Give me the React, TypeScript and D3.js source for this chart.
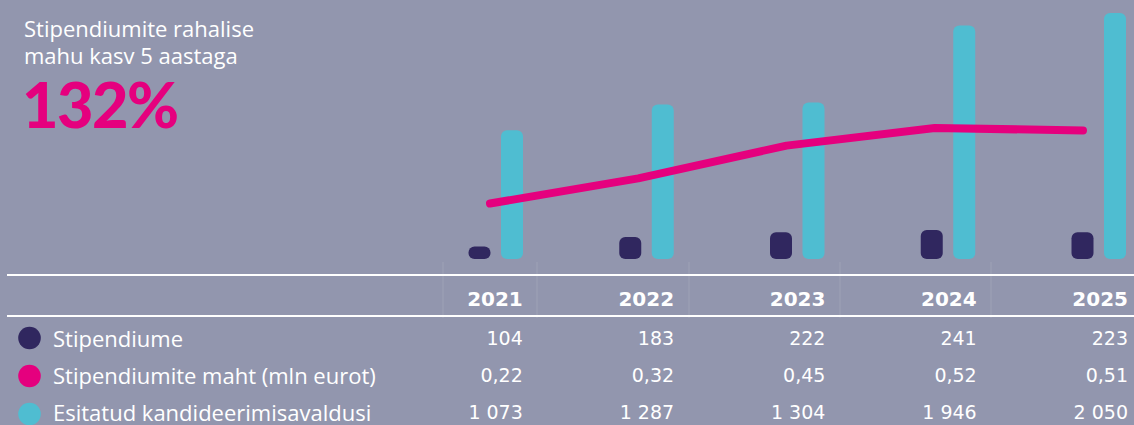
import React from "react";
import * as d3 from "d3";

const years = ["2021", "2022", "2023", "2024", "2025"];
const stipendiume = [104, 183, 222, 241, 223];
const maht = [0.22, 0.32, 0.45, 0.52, 0.51];
const avaldusi = [1073, 1287, 1304, 1946, 2050];
const stipLabels = ["104", "183", "222", "241", "223"];
const mahtLabels = ["0,22", "0,32", "0,45", "0,52", "0,51"];
const avalLabels = ["1 073", "1 287", "1 304", "1 946", "2 050"];
const seriesNames = ["Stipendiume", "Stipendiumite maht (mln eurot)", "Esitatud kandideerimisavaldusi"];
const titleLines = ["Stipendiumite rahalise", "mahu kasv 5 aastaga"];
const bigNumber = "132%";

const W = 1134;
const H = 425;
const BG = "#9296AE";
const NAVY = "#30275F";
const PINK = "#E5007E";
const CYAN = "#4FBDD1";
const FONT = "'Open Sans', 'Noto Sans', sans-serif";
const NUMFONT = "'DejaVu Sans', 'Open Sans', sans-serif";

export default function App() {
  const baseY = 259;
  const yBar = d3.scaleLinear().domain([0, 2050]).range([baseY, 13]);
  const yLine = d3.scaleLinear().domain([0, 1]).range([baseY, 7]);
  // chart columns (bar right edges)
  const xBar = d3.scaleBand().domain(years).range([372.25, 1126]).padding(0);
  // table columns (text right edges)
  const xTab = d3.scaleBand().domain(years).range([371.5, 1128]).padding(0);
  const xLine = d3.scalePoint().domain(years).range([490, 1083]);
  const bw = 22;
  const gap = 10.5;

  const line = d3
    .line<number>()
    .x((_, i) => xLine(years[i]) as number)
    .y((d) => yLine(d));

  const valY = [345, 381.7, 419];
  const labY = [346.5, 384.3, 421];
  const dotY = [338, 376, 414];
  const dotColors = [NAVY, PINK, CYAN];
  const rows = [stipLabels, mahtLabels, avalLabels];
  const colLines = [443, 537, 689, 840, 991];

  return (
    <svg
      width={W}
      height={H}
      style={{ position: "absolute", left: 0, top: 0, display: "block" }}
      fontFamily={FONT}
    >
      <rect x={0} y={0} width={W} height={H} fill={BG} />
      {/* title */}
      {titleLines.map((t, i) => (
        <text key={t} x={24} y={37 + i * 26.5} fill="#fff" fontSize={22}>
          {t}
        </text>
      ))}
      <text
        x={22}
        y={128}
        fill={PINK}
        fontSize={63}
        fontWeight={900}
        fontFamily="Lato, 'Open Sans', sans-serif"
        letterSpacing={-1.5}
      >
        {bigNumber}
      </text>

      {/* bars */}
      {years.map((yr, i) => {
        const right = (xBar(yr) as number) + xBar.bandwidth();
        const cx = right - bw;
        const dx = cx - gap - bw;
        const hC = baseY - yBar(avaldusi[i]);
        const hD = baseY - yBar(stipendiume[i]);
        return (
          <g key={yr}>
            <rect x={dx} y={yBar(stipendiume[i])} width={bw} height={hD} rx={Math.min(6, hD / 2)} fill={NAVY} />
            <rect x={cx} y={yBar(avaldusi[i])} width={bw} height={hC} rx={6} fill={CYAN} />
          </g>
        );
      })}
      <path
        d={line(maht) || ""}
        fill="none"
        stroke={PINK}
        strokeWidth={8}
        strokeLinecap="round"
        strokeLinejoin="round"
      />

      {/* table */}
      {colLines.map((x) => (
        <line key={x} x1={x} x2={x} y1={262} y2={318} stroke="#fff" strokeOpacity={0.12} strokeWidth={1} />
      ))}
      <line x1={7} x2={W} y1={275} y2={275} stroke="#fff" strokeWidth={2} />
      <line x1={7} x2={W} y1={316} y2={316} stroke="#fff" strokeWidth={2} />
      {years.map((yr) => (
        <text
          key={yr}
          x={(xTab(yr) as number) + xTab.bandwidth()}
          y={306}
          textAnchor="end"
          fill="#fff"
          fontSize={20}
          fontWeight={700}
          fontFamily={NUMFONT}
        >
          {yr}
        </text>
      ))}
      {rows.map((vals, r) => (
        <g key={r}>
          <circle cx={29.5} cy={dotY[r]} r={11.3} fill={dotColors[r]} />
          <text x={53} y={labY[r]} fill="#fff" fontSize={22}>
            {seriesNames[r]}
          </text>
          {vals.map((v, i) => (
            <text
              key={i}
              x={(xTab(years[i]) as number) + xTab.bandwidth()}
              y={valY[r]}
              textAnchor="end"
              fill="#fff"
              fontSize={19}
              fontFamily={NUMFONT}
            >
              {v}
            </text>
          ))}
        </g>
      ))}
    </svg>
  );
}
